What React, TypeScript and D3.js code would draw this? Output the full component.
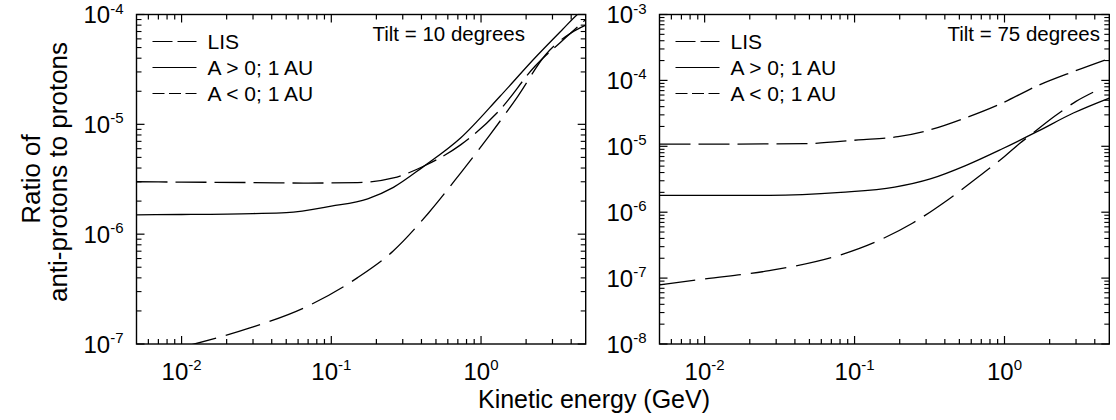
import React from "react";
import * as d3 from "d3";

// ---------- data ----------
// Left panel: tilt = 10 degrees
const lisE10 = [0.005, 0.0122, 0.0286, 0.069, 0.149, 0.258, 0.446, 0.73, 1.13, 1.76, 2.7, 4, 5];
const lisR10 = [7.5e-8, 1.0e-7, 1.4e-7, 2.2e-7, 4.0e-7, 7.0e-7, 1.56e-6, 3.6e-6, 7.8e-6, 1.8e-5, 4.3e-5, 6.8e-5, 8.0e-5];
const posE10 = [0.005, 0.01, 0.03, 0.05, 0.1, 0.175, 0.26, 0.41, 0.73, 1.34, 2.32, 3.5, 4.4, 5];
const posR10 = [1.5e-6, 1.51e-6, 1.54e-6, 1.57e-6, 1.8e-6, 2.1e-6, 2.67e-6, 4.1e-6, 7.5e-6, 1.8e-5, 4.1e-5, 7.3e-5, 1.0e-4, 1.15e-4];
const negE10 = [0.005, 0.01, 0.03, 0.07, 0.15, 0.26, 0.42, 0.73, 1.34, 2.3, 3.4, 5];
const negR10 = [3.0e-6, 2.98e-6, 2.95e-6, 2.92e-6, 2.95e-6, 3.25e-6, 4.2e-6, 6.5e-6, 1.36e-5, 3.4e-5, 5.6e-5, 9.0e-5];

// Right panel: tilt = 75 degrees
const lisE75 = [0.005, 0.01, 0.027, 0.081, 0.14, 0.243, 0.42, 0.73, 1.0, 1.26, 1.5, 2.18, 3.0, 3.9];
const lisR75 = [7.9e-8, 9.7e-8, 1.3e-7, 2.26e-7, 3.6e-7, 6.8e-7, 1.55e-6, 4.0e-6, 7.0e-6, 1.1e-5, 1.5e-5, 2.9e-5, 4.8e-5, 6.6e-5];
const posE75 = [0.005, 0.01, 0.027, 0.081, 0.185, 0.32, 0.55, 0.96, 1.66, 2.88, 5];
const posR75 = [1.8e-6, 1.8e-6, 1.8e-6, 2.0e-6, 2.4e-6, 3.2e-6, 5.1e-6, 9.1e-6, 1.68e-5, 3.2e-5, 5.4e-5];
const negE75 = [0.005, 0.01, 0.047, 0.106, 0.195, 0.32, 0.55, 0.96, 1.66, 2.88, 5];
const negR75 = [1.08e-5, 1.08e-5, 1.1e-5, 1.25e-5, 1.4e-5, 1.78e-5, 2.7e-5, 4.5e-5, 8.3e-5, 1.36e-4, 2.15e-4];

const xDomain = [0.005, 5];
const xTickExps = [-2, -1, 0];
const leftYDomain = [1e-7, 1e-4];
const rightYDomain = [1e-8, 1e-3];
const legendLabels = ["LIS", "A > 0; 1 AU", "A < 0; 1 AU"];
const tiltLabels = ["Tilt = 10 degrees", "Tilt = 75 degrees"];
const yTitle = ["Ratio of", "anti-protons to protons"];
const xTitle = "Kinetic energy (GeV)";

const FONT = "'Liberation Sans', Arial, Helvetica, sans-serif";

const DASH = {
  lis: "36,10",
  pos: "none",
  neg: "31,8",
};
const LEG_DASH = {
  lis: "20,5",
  pos: "none",
  neg: "12,4.5",
};

type Series = { key: "lis" | "pos" | "neg"; e: number[]; r: number[] };

function Panel({
  id,
  x0,
  x1,
  y0,
  y1,
  yDomain,
  series,
  tilt,
  tiltRight,
}: {
  id: string;
  x0: number;
  x1: number;
  y0: number;
  y1: number;
  yDomain: number[];
  series: Series[];
  tilt: string;
  tiltRight: number;
}) {
  const x = d3.scaleLog().domain(xDomain).range([x0, x1]);
  const y = d3.scaleLog().domain(yDomain).range([y1, y0]);

  const xMinor: number[] = [];
  const xMajor: number[] = [];
  for (let k = -3; k <= 0; k++) {
    for (let m = 1; m <= 9; m++) {
      const v = m * Math.pow(10, k);
      if (v <= xDomain[0] * 1.0001 || v >= xDomain[1] * 0.9999) continue;
      if (m === 1) xMajor.push(v);
      else xMinor.push(v);
    }
  }
  const yMinor: number[] = [];
  const yMajor: number[] = [];
  const k0 = Math.round(Math.log10(yDomain[0]));
  const k1 = Math.round(Math.log10(yDomain[1]));
  for (let k = k0; k <= k1; k++) {
    yMajor.push(Math.pow(10, k));
    if (k < k1) for (let m = 2; m <= 9; m++) yMinor.push(m * Math.pow(10, k));
  }

  const MAJ = 8;
  const MIN = 5;

  const line = d3
    .line<[number, number]>()
    .x((d) => x(d[0]))
    .y((d) => y(d[1]))
    .curve(d3.curveMonotoneX);

  return (
    <g>
      <defs>
        <clipPath id={id}>
          <rect x={x0} y={y0} width={x1 - x0} height={y1 - y0} />
        </clipPath>
      </defs>
      <g clipPath={`url(#${id})`}>
        {series.map((s) => (
          <path
            key={s.key}
            d={line(s.e.map((e, i) => [e, s.r[i]] as [number, number])) || ""}
            fill="none"
            stroke="#000"
            strokeWidth={1.3}
            strokeDasharray={DASH[s.key]}
          />
        ))}
      </g>
      <rect x={x0} y={y0} width={x1 - x0} height={y1 - y0} fill="none" stroke="#000" strokeWidth={1.4} />
      {xMajor.map((v) => (
        <g key={"xM" + v}>
          <line x1={x(v)} x2={x(v)} y1={y1} y2={y1 - MAJ} stroke="#000" strokeWidth={1.2} />
          <line x1={x(v)} x2={x(v)} y1={y0} y2={y0 + MAJ} stroke="#000" strokeWidth={1.2} />
        </g>
      ))}
      {xMinor.map((v) => (
        <g key={"xm" + v}>
          <line x1={x(v)} x2={x(v)} y1={y1} y2={y1 - MIN} stroke="#000" strokeWidth={1.2} />
          <line x1={x(v)} x2={x(v)} y1={y0} y2={y0 + MIN} stroke="#000" strokeWidth={1.2} />
        </g>
      ))}
      {yMajor.map((v) => (
        <g key={"yM" + v}>
          <line x1={x0} x2={x0 + MAJ} y1={y(v)} y2={y(v)} stroke="#000" strokeWidth={1.2} />
          <line x1={x1} x2={x1 - MAJ} y1={y(v)} y2={y(v)} stroke="#000" strokeWidth={1.2} />
        </g>
      ))}
      {yMinor.map((v) => (
        <g key={"ym" + v}>
          <line x1={x0} x2={x0 + MIN} y1={y(v)} y2={y(v)} stroke="#000" strokeWidth={1.1} />
          <line x1={x1} x2={x1 - MIN} y1={y(v)} y2={y(v)} stroke="#000" strokeWidth={1.1} />
        </g>
      ))}
      {xTickExps.map((k) => (
        <text
          key={"xl" + k}
          x={x(Math.pow(10, k))}
          y={y1 + 36}
          textAnchor="middle"
          fontFamily={FONT}
          fontSize={24}
          fill="#000"
        >
          10
          <tspan dy={-10} fontSize={15}>
            {String(k)}
          </tspan>
        </text>
      ))}
      {yMajor.map((v) => {
        const k = Math.round(Math.log10(v));
        return (
          <text
            key={"yl" + k}
            x={x0 - 13}
            y={y(v) + 8.5}
            textAnchor="end"
            fontFamily={FONT}
            fontSize={24}
            fill="#000"
          >
            10
            <tspan dy={-9.5} fontSize={15}>
              {String(k)}
            </tspan>
          </text>
        );
      })}
      {(["lis", "pos", "neg"] as const).map((key, i) => (
        <g key={"lg" + key}>
          <line
            x1={x0 + 16}
            x2={x0 + 60}
            y1={y0 + 27 + i * 26}
            y2={y0 + 27 + i * 26}
            stroke="#000"
            strokeWidth={1.2}
            strokeDasharray={LEG_DASH[key]}
          />
          <text x={x0 + 71} y={y0 + 34 + i * 26} fontFamily={FONT} fontSize={21} fill="#000">
            {legendLabels[i]}
          </text>
        </g>
      ))}
      <text x={tiltRight} y={y0 + 26} textAnchor="end" fontFamily={FONT} fontSize={20.5} fill="#000">
        {tilt}
      </text>
    </g>
  );
}

export default function App() {
  const W = 1116;
  const H = 420;
  const y0 = 14.5;
  const y1 = 344;
  return (
    <svg
      width={W}
      height={H}
      viewBox={`0 0 ${W} ${H}`}
      style={{ position: "absolute", left: 0, top: 0, background: "#fff" }}
    >
      <rect x={0} y={0} width={W} height={H} fill="#fff" />
      <Panel
        id="clipL"
        x0={136.5}
        x1={585.7}
        y0={y0}
        y1={y1}
        yDomain={leftYDomain}
        tilt={tiltLabels[0]}
        tiltRight={525}
        series={[
          { key: "lis", e: lisE10, r: lisR10 },
          { key: "pos", e: posE10, r: posR10 },
          { key: "neg", e: negE10, r: negR10 },
        ]}
      />
      <Panel
        id="clipR"
        x0={659.5}
        x1={1109.3}
        y0={y0}
        y1={y1}
        yDomain={rightYDomain}
        tilt={tiltLabels[1]}
        tiltRight={1100}
        series={[
          { key: "lis", e: lisE75, r: lisR75 },
          { key: "pos", e: posE75, r: posR75 },
          { key: "neg", e: negE75, r: negR75 },
        ]}
      />
      <text
        transform={`translate(40,179) rotate(-90)`}
        textAnchor="middle"
        fontFamily={FONT}
        fontSize={26}
        fill="#000"
      >
        {yTitle[0]}
      </text>
      <text
        transform={`translate(67,172) rotate(-90)`}
        textAnchor="middle"
        fontFamily={FONT}
        fontSize={26}
        fill="#000"
      >
        {yTitle[1]}
      </text>
      <text x={594} y={408} textAnchor="middle" fontFamily={FONT} fontSize={25} fill="#000">
        {xTitle}
      </text>
    </svg>
  );
}
